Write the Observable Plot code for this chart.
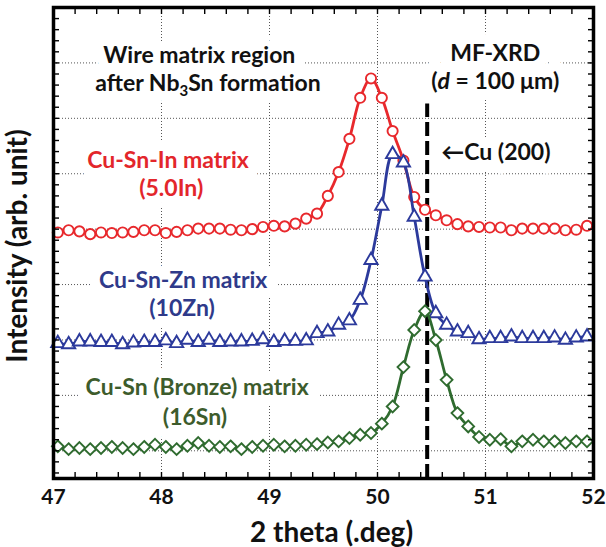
<!DOCTYPE html>
<html><head><meta charset="utf-8">
<script src="https://cdn.jsdelivr.net/npm/d3@7"></script>
<script src="https://cdn.jsdelivr.net/npm/@observablehq/plot@0.6"></script>
<style>body{margin:0;background:#fff} svg{display:block}</style>
</head><body><div id="chart"></div>
<script>
// 2θ sample positions (deg)
const twoTheta = [47.04,47.14,47.24,47.34,47.44,47.54,47.64,47.74,47.84,47.94,
  48.04,48.14,48.24,48.34,48.44,48.54,48.64,48.74,48.84,48.94,
  49.04,49.14,49.24,49.34,49.44,49.54,49.64,49.74,49.84,49.94,
  50.04,50.14,50.24,50.34,50.44,50.54,50.64,50.74,50.84,50.94,
  51.04,51.14,51.24,51.34,51.44,51.54,51.64,51.74,51.84,51.94];
// Intensities (arb. unit, offset)
const cuSnIn = [3.94,3.98,3.96,3.91,3.94,3.93,3.94,3.95,3.98,3.98,
  3.93,3.95,3.98,4.01,4.01,4.01,3.99,3.98,4.00,4.04,
  4.06,4.05,4.10,4.19,4.28,4.60,5.03,5.63,6.37,6.72,
  6.37,5.77,5.24,4.58,4.35,4.25,4.16,4.09,4.05,4.04,
  4.03,4.03,3.98,4.01,4.01,4.01,4.01,3.98,3.99,4.06];
const cuSnZn = [1.94,1.92,1.97,1.97,1.96,1.96,1.92,1.95,1.96,1.96,
  1.99,1.94,2.00,1.96,2.00,1.96,1.97,1.97,1.98,2.01,
  1.96,1.98,1.98,1.99,2.12,2.15,2.27,2.35,2.72,3.44,
  4.42,5.35,5.20,4.22,3.14,2.48,2.27,2.15,2.12,2.01,
  2.03,2.03,2.06,2.03,2.03,2.03,2.04,2.00,2.04,2.06];
const cuSn = [0.08,0.03,0.05,0.03,0.05,0.07,0.05,0.03,0.07,0.11,
  0.07,0.03,0.09,0.14,0.09,0.07,0.08,0.03,0.07,0.09,
  0.11,0.08,0.09,0.11,0.12,0.15,0.17,0.23,0.29,0.32,
  0.49,0.80,1.51,2.18,2.52,2.00,1.28,0.68,0.44,0.25,
  0.20,0.21,0.08,0.17,0.20,0.17,0.17,0.14,0.17,0.17];

const seriesNames = ["Cu-Sn-In", "Cu-Sn-Zn", "Cu-Sn"];
const seriesValues = [cuSnIn, cuSnZn, cuSn];
const seriesColors = ["#e8282c", "#2c3a9c", "#2f6b2f"];
const seriesSymbols = ["circle", "triangle", "diamond2"];
const seriesSizes = [5.1, 4.9, 5.3];

const xTickLabels = [47, 48, 49, 50, 51, 52];
const xGrid = [48, 49, 50, 51];
const yGrid = [0, 1, 2, 3, 4, 5, 6, 7];
const xMinor = d3.range(0, 26).map(i => +(47 + i * 0.2).toFixed(2));
const yMinor = d3.range(0, 43).map(i => +(-0.4 + i * 0.2).toFixed(2));

const cuPeak = 50.46;       // Cu (200) reference line
const cuPeakTop = 6.26;

// annotations
const annText = ["Wire matrix region", "after Nb3Sn formation", "MF-XRD", "(d = 100 μm)",
  "Cu-Sn-In matrix", "(5.0In)", "Cu-Sn-Zn matrix", "(10Zn)", "Cu-Sn (Bronze) matrix", "(16Sn)"];
const annX = [48.35, 48.43, 51.09, 51.09, 48.06, 48.09, 48.20, 48.19, 48.33, 48.31];
const annY = [7.13, 6.63, 7.17, 6.66, 5.24, 4.73, 3.07, 2.57, 1.14, 0.60];
const annColor = ["#111", "#111", "#111", "#111", "#e3262b", "#e3262b", "#2f3a8a", "#2f3a8a", "#3d5c2c", "#3d5c2c"];
const arrowLabel = "←Cu (200)";
const arrowX = 50.59, arrowY = 5.38;

const annotations = annText.map((t, i) => ({text: t, x: annX[i], y: annY[i], color: annColor[i]}));

const font = "Lato, 'Open Sans', 'DejaVu Sans', sans-serif";
const gridStyle = {stroke: "#555", strokeOpacity: 1, strokeDasharray: "1,2", strokeWidth: 1};
const haloStyle = {fill: "white", stroke: "white", strokeWidth: 20, strokeLinejoin: "round"};
const annFont = {fontSize: 23, fontWeight: "bold"};

const marks = [
  Plot.gridX(xGrid, gridStyle),
  Plot.gridY(yGrid, gridStyle),
  // white boxes behind the annotation texts
  Plot.text(annotations, {x: "x", y: "y", text: "text", ...annFont, ...haloStyle}),
  Plot.text([arrowLabel], {x: arrowX, y: arrowY, text: d => d, textAnchor: "start", ...annFont, ...haloStyle}),
  Plot.text(annotations, {x: "x", y: "y", text: "text", fill: "color", ...annFont}),
  Plot.text([arrowLabel], {x: arrowX, y: arrowY, text: d => d, textAnchor: "start", fill: "#111", ...annFont}),
  Plot.ruleX([cuPeak], {y1: -0.5, y2: cuPeakTop, stroke: "black", strokeWidth: 4, strokeDasharray: "14,5"})
];
seriesNames.forEach((name, s) => {
  const rows = twoTheta.map((x, i) => ({x, y: seriesValues[s][i]}));
  marks.push(Plot.line(rows, {x: "x", y: "y", stroke: seriesColors[s], strokeWidth: 2.8, curve: "catmull-rom"}));
  marks.push(Plot.dot(rows, {x: "x", y: "y", symbol: seriesSymbols[s], r: seriesSizes[s], stroke: seriesColors[s], fill: "white", strokeWidth: 1.9}));
});
marks.push(
  Plot.axisX(xMinor, {anchor: "bottom", tickSize: -6, fill: "none", label: null, strokeWidth: 1.4}),
  Plot.axisX(xMinor, {anchor: "top", tickSize: -6, fill: "none", label: null, strokeWidth: 1.4}),
  Plot.axisY(yMinor, {anchor: "left", tickSize: -6, fill: "none", label: null, strokeWidth: 1.4}),
  Plot.axisY(yMinor, {anchor: "right", tickSize: -6, fill: "none", label: null, strokeWidth: 1.4}),
  Plot.axisX(xTickLabels, {anchor: "bottom", tickSize: 0, tickPadding: 11, fontSize: 21, fontWeight: "bold", label: null, tickFormat: d => String(d), fill: "#111"}),
  Plot.text(["2 theta (.deg)"], {frameAnchor: "bottom", dy: 55, dx: 8, lineAnchor: "middle", text: d => d, fontSize: 28, fontWeight: "bold", fill: "#111"}),
  Plot.text(["Intensity (arb. unit)"], {frameAnchor: "left", dx: -35, dy: 3, textAnchor: "middle", lineAnchor: "middle", rotate: -90, text: d => d, fontSize: 28, fontWeight: "bold", fill: "#111"}),
  Plot.frame({stroke: "black", strokeWidth: 3.5})
);

const chart = Plot.plot({
  width: 606, height: 547,
  marginLeft: 53, marginRight: 13, marginTop: 7, marginBottom: 69,
  x: {domain: [47, 52]},
  y: {domain: [-0.5, 8]},
  color: {type: "identity"},
  style: {fontFamily: font, color: "black", background: "white", overflow: "visible"},
  marks
});

// rich text: subscript and italic
d3.select(chart).selectAll("text").each(function () {
  const t = this.textContent;
  const el = d3.select(this);
  if (t === "after Nb3Sn formation") {
    el.text(null);
    el.append("tspan").text("after Nb");
    el.append("tspan").attr("dy", 5).attr("font-size", 15).text("3");
    el.append("tspan").attr("dy", -5).text("Sn formation");
  } else if (t === "(d = 100 μm)") {
    el.text(null);
    el.append("tspan").text("(");
    el.append("tspan").attr("font-style", "italic").text("d");
    el.append("tspan").text(" = 100 μm)");
  }
});
document.getElementById("chart").append(chart);
</script>
</body></html>
